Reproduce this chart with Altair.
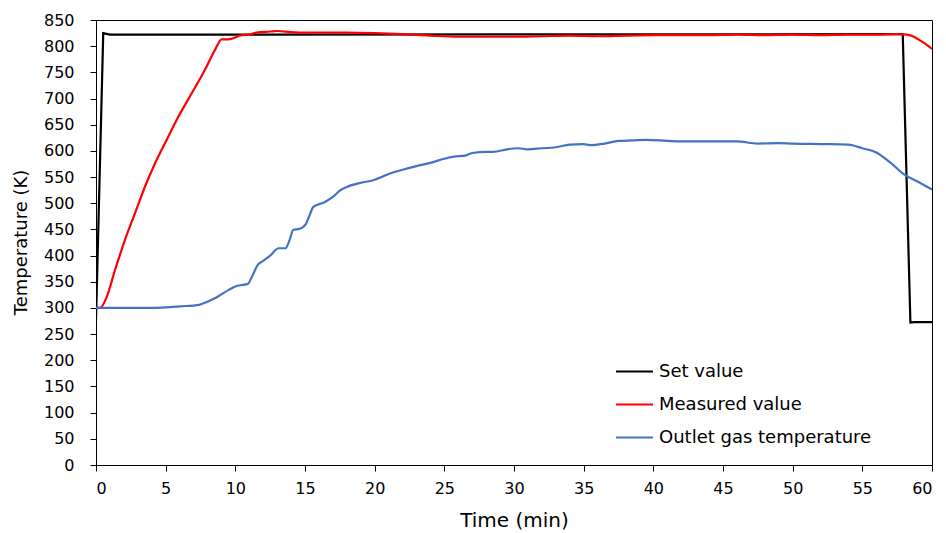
import altair as alt
import pandas as pd

# Set-point temperature (K) over time (min)
set_t = [0, 0.52, 1.0, 57.9, 58.45, 58.7, 60]
set_v = [276, 825, 822, 823, 272, 273, 273]

# Measured furnace temperature (K)
meas_t = [0, 0.29, 0.77, 1.36, 2.08, 2.8, 3.52, 4.23, 5.07, 5.91, 6.87, 7.82, 8.54, 9.02,
          9.5, 10.46, 11, 11.5, 12.5, 13, 14, 15, 16, 18, 20, 22, 24, 26, 28, 30, 32,
          34, 36, 38, 40, 42, 44, 46, 48, 50, 52, 54, 56, 57.5, 58.2, 58.7, 59.2, 59.6, 60]
meas_v = [300, 300, 321, 372, 430, 481, 532, 576, 621, 665, 710, 755, 793, 813,
          813, 821, 822, 826, 828, 829, 827, 826, 826, 826, 825, 823, 820, 818, 818, 818, 819,
          820, 819, 820, 821, 821, 821, 822, 821, 822, 821, 822, 822, 823, 822, 818, 810, 803, 795]

# Outlet gas temperature (K)
gas_t = [0, 2, 4, 5, 6, 7.4, 8, 8.5, 9, 9.5, 10, 10.5, 10.9, 11.2, 11.6, 12, 12.5,
         13.1, 13.6, 13.9, 14.15, 14.6, 15, 15.3, 15.6, 16.4, 17, 17.5, 18, 19, 19.9,
         20.5, 21, 22, 23, 24, 25, 25.7, 26.5, 27, 28, 28.5, 29.5, 30.3, 31, 32, 33,
         34, 35, 35.5, 36.5, 37.5, 38.5, 39.5, 41, 42, 44, 46, 47.5, 49, 50, 52, 54,
         55, 56, 57, 58, 59, 60]
gas_v = [300, 300, 300, 301, 303, 306, 312, 318, 326, 334, 341, 344, 346, 360, 382, 390, 400,
         414, 414, 430, 449, 451, 458, 475, 493, 502, 512, 524, 531, 539, 544,
         550, 556, 564, 571, 577, 585, 589, 591, 596, 598, 598, 603, 605, 603, 605, 607,
         612, 613, 611, 614, 619, 620, 621, 619, 618, 618, 618, 614, 615, 614, 613, 612,
         605, 597, 578, 555, 541, 526]

series_names = ["Set value", "Measured value", "Outlet gas temperature"]
series_colors = ["#000000", "#FF0000", "#4472C4"]

frames = []
for name, ts, vs in zip(series_names, [set_t, meas_t, gas_t], [set_v, meas_v, gas_v]):
    frames.append(pd.DataFrame({"time": ts, "temp": vs, "series": name,
                                "order": range(len(ts))}))
df = pd.concat(frames, ignore_index=True)

FONT = "DejaVu Sans"

x_enc = alt.X(
    "time:Q",
    scale=alt.Scale(domain=[0, 60], nice=False, zero=False),
    axis=alt.Axis(
        title="Time (min)",
        values=list(range(0, 61, 5)),
        titleFontSize=20,
        titleFontWeight="normal",
        titleY=55,
        titleBaseline="middle",
        labelPadding=9,
    ),
)
y_enc = alt.Y(
    "temp:Q",
    scale=alt.Scale(domain=[0, 850], nice=False),
    axis=alt.Axis(
        title="Temperature (K)",
        values=list(range(0, 851, 50)),
        titleFontSize=18,
        titleFontWeight="normal",
        titleAngle=-90,
        titleX=-75,
        titleY=222,
        titleAlign="center",
        titleBaseline="middle",
        labelPadding=16,
    ),
)
color_enc = alt.Color(
    "series:N",
    scale=alt.Scale(domain=series_names, range=series_colors),
    legend=alt.Legend(
        title=None,
        orient="none",
        legendX=519,
        legendY=332,
        symbolType="stroke",
        symbolSize=1369,
        symbolStrokeWidth=2,
        labelFontSize=18,
        labelFont=FONT,
        labelColor="#000000",
        labelLimit=0,
        labelOffset=5,
        rowPadding=4,
        padding=0,
    ),
)

base = alt.Chart(df).encode(
    x=x_enc, y=y_enc, color=color_enc, detail="series:N", order="order:Q"
)

# The set point is a piecewise-linear program; the measured curves are smoothed.
set_line = base.transform_filter(alt.datum.series == "Set value").mark_line(
    strokeWidth=2.2, clip=True
)
measured_lines = base.transform_filter(alt.datum.series != "Set value").mark_line(
    strokeWidth=2.2, clip=True, interpolate="monotone"
)

chart = (
    alt.layer(set_line, measured_lines)
    .properties(
        width=836,
        height=445,
        padding={"left": 96, "top": 20, "right": 14, "bottom": 68},
        autosize=alt.AutoSizeParams(type="none"),
    )
    .configure(font=FONT)
    .configure_view(stroke="#000000", strokeWidth=1)
    .configure_axis(
        grid=False,
        domainColor="#000000",
        tickColor="#000000",
        tickSize=6,
        labelFontSize=16,
        labelColor="#000000",
        titleColor="#000000",
        labelFont=FONT,
        titleFont=FONT,
    )
)

chart.save("out.html", embed_options={"renderer": "svg", "actions": False})
